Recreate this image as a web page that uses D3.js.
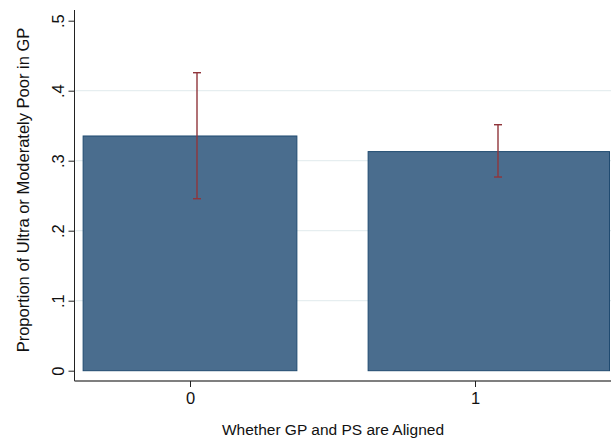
<!DOCTYPE html>
<html><head><meta charset="utf-8">
<script src="https://cdn.jsdelivr.net/npm/d3@7"></script>
<style>html,body{margin:0;padding:0;background:#fff;}svg{display:block;}</style>
</head><body>
<script>
const categories = [0, 1];
const proportions = [0.3353, 0.3130];
const ciLow = [0.2457, 0.2767];
const ciHigh = [0.4257, 0.3514];
const yTicks = [0, 0.1, 0.2, 0.3, 0.4, 0.5];
const yTickLabels = ["0", ".1", ".2", ".3", ".4", ".5"];
const xTitle = "Whether GP and PS are Aligned";
const yTitle = "Proportion of Ultra or Moderately Poor in GP";

const W = 611, H = 439;
const svg = d3.select("body").append("svg").attr("width", W).attr("height", H);
const font = "'Liberation Sans', Arial, sans-serif";

const axisX = 74.5, axisY = 381;
const y = d3.scaleLinear().domain([0, 0.5]).range([370.7, 20.7]);
const x = d3.scaleLinear().domain([0, 1]).range([190, 475]);
const xErr = d3.scaleLinear().domain([0, 1]).range([197, 498]);
const halfW = 0.375;

// grid
svg.append("g").selectAll("line").data(yTicks.filter(t => t > 0 && t < 0.5)).join("line")
  .attr("x1", axisX + 1).attr("x2", W)
  .attr("y1", d => y(d)).attr("y2", d => y(d))
  .attr("stroke", "#e6eef0").attr("stroke-width", 1.2);

// bars
svg.append("g").selectAll("rect").data(categories).join("rect")
  .attr("x", (d) => x(d - halfW))
  .attr("width", (d, i) => (i === categories.length - 1 ? W - 1.5 : x(d + halfW)) - x(d - halfW))
  .attr("y", (d, i) => y(proportions[i]))
  .attr("height", (d, i) => y(0) - y(proportions[i]))
  .attr("fill", "#4a6d8e").attr("stroke", "#1f4a70").attr("stroke-width", 1);

// error bars
const eg = svg.append("g").attr("stroke", "#90353b").attr("stroke-width", 1.4);
categories.forEach((c, i) => {
  const cx = xErr(c);
  eg.append("line").attr("x1", cx).attr("x2", cx).attr("y1", y(ciHigh[i])).attr("y2", y(ciLow[i]));
  eg.append("line").attr("x1", cx - 4).attr("x2", cx + 4).attr("y1", y(ciHigh[i])).attr("y2", y(ciHigh[i]));
  eg.append("line").attr("x1", cx - 4).attr("x2", cx + 4).attr("y1", y(ciLow[i])).attr("y2", y(ciLow[i]));
});

// y axis
const ya = svg.append("g").attr("transform", `translate(${axisX},0)`)
  .call(d3.axisLeft(y).tickValues(yTicks).tickFormat((d, i) => yTickLabels[i]).tickSize(6));
ya.select(".domain").attr("d", `M0,10V${axisY}`).attr("stroke", "#222");
ya.selectAll(".tick line").attr("stroke", "#222");
ya.selectAll(".tick text").attr("font-family", font).attr("font-size", 16.5).attr("fill", "#111")
  .attr("transform", "rotate(-90)").attr("text-anchor", "middle").attr("x", 0).attr("y", -11).attr("dy", 0);

// x axis
const xa = svg.append("g").attr("transform", `translate(0,${axisY})`)
  .call(d3.axisBottom(x).tickValues(categories).tickFormat(d3.format("d")).tickSize(6).tickPadding(5));
xa.select(".domain").attr("d", `M${axisX},0H${W}`).attr("stroke", "#555").attr("stroke-width", 1.5);
xa.selectAll(".tick line").attr("stroke", "#222");
xa.selectAll(".tick text").attr("font-family", font).attr("font-size", 16.5).attr("fill", "#111");

// titles
svg.append("text").attr("x", 333).attr("y", 435).attr("text-anchor", "middle")
  .attr("font-family", font).attr("font-size", 15.5).attr("fill", "#111").text(xTitle);
svg.append("text").attr("transform", "translate(29,190) rotate(-90)").attr("text-anchor", "middle")
  .attr("font-family", font).attr("font-size", 16.5).attr("fill", "#111").text(yTitle);
</script>
</body></html>
